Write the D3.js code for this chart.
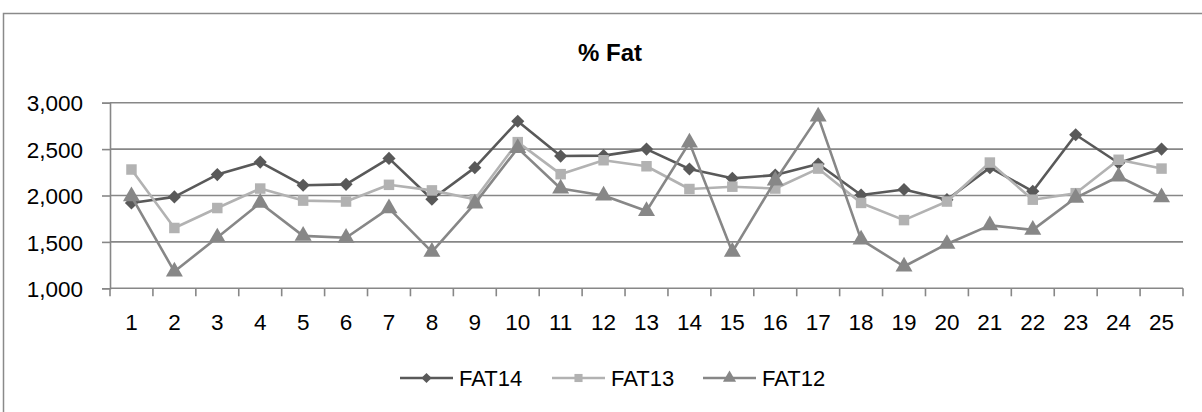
<!DOCTYPE html>
<html>
<head>
<meta charset="utf-8">
<script src="https://cdn.jsdelivr.net/npm/d3@7"></script>
<style>
  html, body { margin: 0; padding: 0; background: #fff; }
  svg { display: block; }
  text { font-family: "Liberation Sans", Arial, sans-serif; fill: #000; }
</style>
</head>
<body>
<svg id="chart" width="1202" height="412"></svg>
<script>
const categories = ["1","2","3","4","5","6","7","8","9","10","11","12","13","14","15","16","17","18","19","20","21","22","23","24","25"];
const fat14 = [1920,1985,2225,2360,2110,2120,2400,1960,2300,2800,2425,2430,2500,2285,2185,2220,2340,2005,2065,1955,2300,2045,2655,2350,2500];
const fat13 = [2280,1650,1865,2075,1945,1935,2115,2055,1960,2575,2230,2380,2315,2070,2095,2075,2290,1920,1735,1935,2355,1955,2025,2385,2290];
const fat12 = [1990,1180,1548,1920,1565,1545,1862,1392,1912,2510,2075,2000,1833,2570,1392,2160,2850,1525,1235,1478,1678,1630,1975,2205,1980];
const yTicks = [1000,1500,2000,2500,3000];
const seriesNames = ["FAT14","FAT13","FAT12"];
const seriesColors = ["#595959","#b2b2b2","#878787"];
const seriesShapes = [d3.symbolDiamond2, d3.symbolSquare, d3.symbolTriangle];

const svg = d3.select("#chart");
const axisColor = "#878787";
const font = "'Liberation Sans', Arial, sans-serif";

svg.append("rect").attr("x",3.5).attr("y",13.5).attr("width",1230).attr("height",420)
  .attr("fill","none").attr("stroke","#8a8a8a").attr("stroke-width",1.5);

const x = d3.scaleBand().domain(categories).range([110,1183]);
const y = d3.scaleLinear().domain([1000,3000]).range([288.3,102.7]);

svg.append("text").attr("x",610).attr("y",61).attr("text-anchor","middle")
  .attr("font-size",24).attr("font-weight","bold").text("% Fat");

svg.append("g").selectAll("line").data(yTicks.filter(d=>d!==1000)).join("line")
  .attr("x1",110).attr("x2",1183).attr("y1",d=>y(d)).attr("y2",d=>y(d))
  .attr("stroke",axisColor).attr("stroke-width",1.6);

const yAxis = svg.append("g").attr("transform","translate(110,0)")
  .call(d3.axisLeft(y).tickValues(yTicks).tickSize(8).tickPadding(19).tickFormat(d3.format(",")));
yAxis.select(".domain").attr("stroke",axisColor).attr("stroke-width",1.6);
yAxis.selectAll(".tick line").attr("stroke",axisColor).attr("stroke-width",1.6);
yAxis.selectAll("text").attr("font-size",22.5).attr("font-family",font).attr("fill","#000").attr("dy","0.36em");

const xAxis = svg.append("g").attr("transform","translate(0,"+y(1000)+")")
  .call(d3.axisBottom(x).tickSize(0).tickPadding(26));
xAxis.select(".domain").attr("stroke",axisColor).attr("stroke-width",1.6).attr("d","M110,0H1183");
xAxis.selectAll("text").attr("font-size",22.5).attr("font-family",font).attr("fill","#000");
const bounds = categories.map(c=>x(c)).concat([x.range()[1]]);
xAxis.append("g").selectAll("line").data(bounds).join("line")
  .attr("x1",d=>d).attr("x2",d=>d).attr("y1",0).attr("y2",8)
  .attr("stroke",axisColor).attr("stroke-width",1.6);

const cx = c => x(c) + x.bandwidth()/2;
const allSeries = [fat14, fat13, fat12];
const symSizes = [110, 110, 125];

allSeries.forEach((vals,i)=>{
  const data = vals.map((v,j)=>({c:categories[j], v}));
  svg.append("path").datum(data)
    .attr("fill","none").attr("stroke",seriesColors[i]).attr("stroke-width",2.6)
    .attr("stroke-linejoin","round")
    .attr("d", d3.line().x(d=>cx(d.c)).y(d=>y(d.v)));
  svg.append("g").selectAll("path").data(data).join("path")
    .attr("transform",d=>`translate(${cx(d.c)},${y(d.v)})`)
    .attr("d", d3.symbol().type(seriesShapes[i]).size(symSizes[i]))
    .attr("fill",seriesColors[i]);
});

const legX = [400, 552, 703];
seriesNames.forEach((n,i)=>{
  const g = svg.append("g").attr("transform",`translate(${legX[i]},378)`);
  g.append("line").attr("x1",0).attr("x2",53).attr("y1",0).attr("y2",0)
    .attr("stroke",seriesColors[i]).attr("stroke-width",2.6);
  g.append("path").attr("transform","translate(26.5,0)")
    .attr("d", d3.symbol().type(seriesShapes[i]).size(symSizes[i]*0.6)).attr("fill",seriesColors[i]);
  g.append("text").attr("x",59).attr("y",0).attr("dy","0.36em").attr("font-size",22).attr("font-family",font).text(n);
});
</script>
</body>
</html>
